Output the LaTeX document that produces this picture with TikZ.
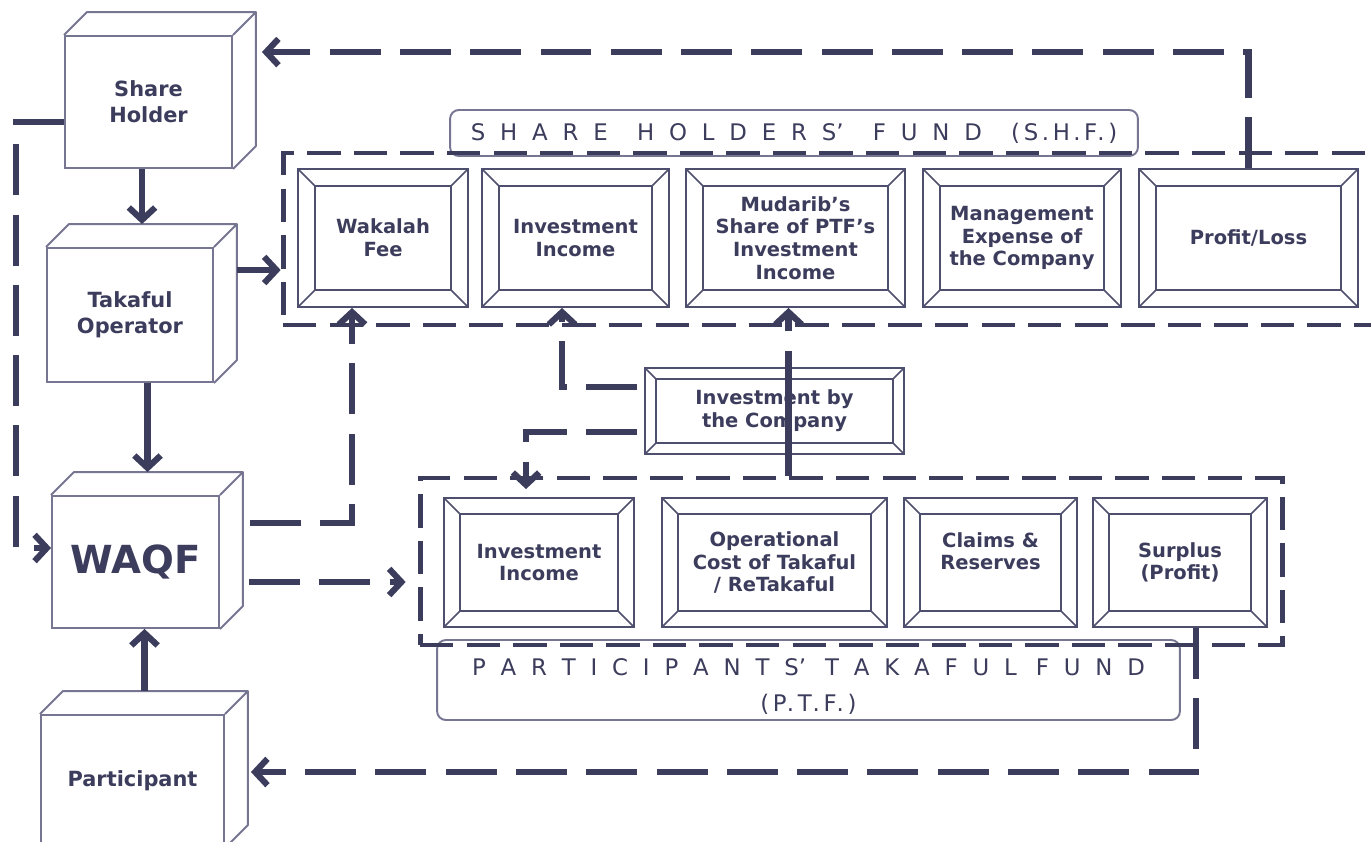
\documentclass[tikz,border=0pt]{standalone}
\usepackage{fontspec}
\setmainfont{DejaVu Sans}
\usetikzlibrary{arrows.meta, positioning}
\definecolor{fundink}{RGB}{60,60,92}
\definecolor{cubeedge}{RGB}{118,118,146}
\definecolor{beveledge}{RGB}{78,78,110}
\newcommand\cubefont{\fontsize{11.9}{14.7}\selectfont\bfseries}
\newcommand\boxfont{\fontsize{11.1}{12.9}\selectfont\bfseries}
\newcommand\titlefont{\fontsize{13}{20}\selectfont\spaceskip=0.65em\relax}
\newcommand\fundabbr[1]{{\addfontfeature{LetterSpace=16}#1}}
\tikzset{
  cube/.style={draw=cubeedge, line width=1.1pt, fill=white, text=fundink, font=\cubefont,
    align=center, inner sep=0pt, minimum width=3.34cm, minimum height=2.64cm},
  bevbox/.style={draw=beveledge, line width=1.1pt, fill=white, text=fundink, font=\boxfont,
    align=center, inner sep=0pt,
    path picture={
      \path (path picture bounding box.north west) coordinate (bnw)
            (path picture bounding box.north east) coordinate (bne)
            (path picture bounding box.south west) coordinate (bsw)
            (path picture bounding box.south east) coordinate (bse);
      \draw[beveledge, line width=1.1pt] ([shift={(#1,-#1)}]bnw) rectangle ([shift={(-#1,#1)}]bse);
      \draw[beveledge, line width=0.9pt] (bnw) -- ([shift={(#1,-#1)}]bnw)
        (bne) -- ([shift={(-#1,-#1)}]bne)
        (bsw) -- ([shift={(#1,#1)}]bsw)
        (bse) -- ([shift={(-#1,#1)}]bse);
    }},
  bevbox/.default=0.34cm,
  fundbox/.style={draw=fundink, line width=2.8pt, dash pattern=on 19pt off 7.5pt, inner sep=0pt},
  fundtitle/.style={draw=cubeedge, line width=1.1pt, rounded corners=5pt, fill=white,
    text=fundink, font=\titlefont, align=center, inner sep=0pt},
  feed/.style={draw=fundink, line width=3.5pt, -{Straight Barb[length=7pt,width=15pt]}},
  flow/.style={feed, dash pattern=on 29pt off 11pt},
}

\begin{document}
\begin{tikzpicture}[x=0.02cm, y=-0.02cm]
\useasboundingbox (0,0) rectangle (1371,841);
\clip (0,0) rectangle (1371,841);
\fill[white] (0,0) rectangle (1371,841);

% fund titles and fund borders
\node[fundtitle, minimum width=13.76cm, minimum height=0.92cm] (shftitle) at (794,133)
  {S H A R E\hspace{1.28em}H O L D E R S’\hspace{1.28em}F U N D\hspace{1.28em}\fundabbr{(S.H.F.)}};
\node[fundtitle, minimum width=14.86cm, minimum height=1.6cm] (ptftitle) at (808.5,680)
  {\rule{0pt}{17pt}P A R T I C I P A N T S’\hspace{0.83em}T A K A F U L\hspace{0.83em}F U N D\\\fundabbr{(P.T.F.)}};
\node[fundbox, minimum width=22.14cm, minimum height=3.44cm] (shf) at (836.5,239) {};
\node[fundbox, minimum width=17.26cm, minimum height=3.34cm] (ptf) at (851.5,561.5) {};

% parties
\node[cube] (sh) at (148.5,102) {Share\\Holder};
\node[cube, minimum width=3.32cm, minimum height=2.68cm] (to) at (130,315) {Takaful\\Operator};
\node[cube, font=\fontsize{22}{26}\selectfont\bfseries] (waqf) at (135.5,562) {WAQF};
\node[cube, minimum width=3.66cm] (part) at (132.5,781) {Participant};
\foreach \c in {sh,to,waqf,part}{
  \draw[cubeedge, line width=1.1pt, line join=round] (\c.north west) -- ++(23,-23)
    -- ([shift={(23,-23)}]\c.north east) -- ([shift={(23,-23)}]\c.south east) -- (\c.south east)
    (\c.north east) -- ++(23,-23);
  \coordinate (\c-in) at ([shift={(12,-23)}]\c.north);
}

% fund items
\foreach \n/\x/\w/\t in {wak/383/3.4/{Wakalah\\Fee}, invs/575.5/3.74/{Investment\\Income},
    mud/795.5/4.38/{Mudarib’s\\Share of PTF’s\\Investment\\Income},
    mgmt/1022/3.96/{Management\\Expense of\\the Company}, pl/1248.5/4.38/{Profit/Loss}}
  \node[bevbox, minimum width=\w cm, minimum height=2.76cm] (\n) at (\x,238) {\t};
\foreach \n/\x/\w/\t in {invp/539/3.8/{Investment\\Income},
    opc/774.5/4.5/{Operational\\Cost of Takaful\\/ ReTakaful},
    clm/990.5/3.46/{Claims \&\\Reserves\\\mbox{}}, sur/1180/3.48/{Surplus\\(Profit)}}
  \node[bevbox=0.32cm, minimum width=\w cm, minimum height=2.58cm] (\n) at (\x,562.5) {\t};
\node[bevbox=0.22cm, minimum width=5.18cm, minimum height=1.72cm] (ibc) at (774.5,411)
  {Investment by\\the Company};

% connectors
\coordinate (to-out) at ([shift={(23,-45)}]to.east);
\coordinate (sh-out) at ([yshift=-0.4cm]sh.west);
\coordinate (sh-back) at ([shift={(29,17)}]sh.north east);
\coordinate (waqf-left) at ([yshift=0.28cm]waqf.west);
\coordinate (waqf-up) at ([shift={(30,-39)}]waqf.east);
\coordinate (waqf-right) at ([shift={(29,20)}]waqf.east);
\coordinate (part-back) at ([shift={(26,-9)}]part.east);
\coordinate (sur-out) at ([xshift=0.32cm]sur.south);
\coordinate (mud-in) at ([xshift=-0.14cm]mud.south);

\draw[feed] (to-in |- sh.south) -- (to-in);
\draw[feed] (waqf-in |- to.south) -- (waqf-in);
\draw[feed] (part-in) -- (part-in |- waqf.south);
\draw[feed] (to-out) -- (to-out -| shf.west);
\draw[flow] (sh-out) -- ++(-48,0) |- (waqf-left);
\draw[flow] (waqf-up) -| ([xshift=-0.62cm]wak.south);
\draw[flow, shorten >=0.24cm] (waqf-right) -- (waqf-right -| ptf.west);
\draw[flow] ([shift={(-7,-24)}]ibc.west) -| ([xshift=-0.27cm]invs.south);
\draw[flow, shorten >=0.16cm] ([shift={(-7,21)}]ibc.west) -| ([xshift=-0.26cm]invp.north);
\draw[feed, dash pattern=on 71pt off 11pt on 40pt off 20pt] (mud-in |- ptf.north) -- (mud-in);
\draw[flow] (pl.north) |- (sh-back);
\draw[flow] (sur-out) |- (part-back);
\end{tikzpicture}
\end{document}
